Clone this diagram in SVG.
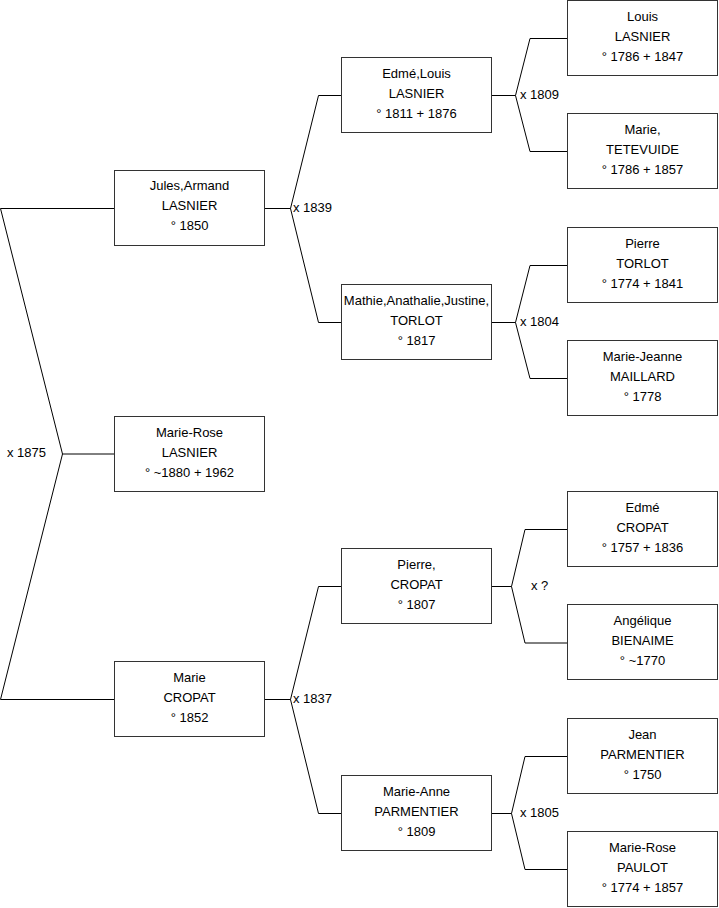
<svg xmlns="http://www.w3.org/2000/svg" width="719" height="908" viewBox="0 0 719 908">
<style>
.box{fill:#fff;stroke:#333;stroke-width:1}
.t{font-family:"Liberation Sans",Arial,sans-serif;font-size:13px;fill:#000;text-anchor:middle}
.lbl{font-family:"Liberation Sans",Arial,sans-serif;font-size:13px;fill:#000}
.con{fill:none;stroke:#000;stroke-width:1}
</style>
<rect width="719" height="908" fill="#fff"/>
<g id="connectors" class="con">
<path d="M114,208.5 H0.5 L62.5,454 L0.5,699.5 H114 M62.5,454 H114"/>
<path d="M265,208.5 H290.5 M341,95.5 H318.5 L290.5,208.5 L318.5,322.5 H341"/>
<path d="M265,699.5 H290.5 M341,586.5 H318.5 L290.5,699.5 L318.5,813.5 H341"/>
<path d="M491,95.5 H515.5 M567,38.5 H530 L515.5,95.5 L530,151.5 H567"/>
<path d="M491,322.5 H515.5 M567,265.5 H530 L515.5,322.5 L530,378.5 H567"/>
<path d="M491,586.5 H511.5 M567,529.5 H525 L511.5,586.5 L525,643 H567"/>
<path d="M491,813.5 H511.5 M567,756.5 H525 L511.5,813.5 L525,869.5 H567"/>
</g>
<g id="labels" class="lbl">
<text x="7" y="456.5">x 1875</text>
<text x="293" y="212">x 1839</text>
<text x="293" y="703">x 1837</text>
<text x="520" y="99">x 1809</text>
<text x="520" y="326">x 1804</text>
<text x="531" y="590">x ?</text>
<text x="520" y="817">x 1805</text>
</g>
<g id="n-jules"><rect class="box" x="114.5" y="170.5" width="150" height="75"/><text class="t"><tspan x="189.5" y="190">Jules,Armand</tspan><tspan x="189.5" y="210">LASNIER</tspan><tspan x="189.5" y="230">° 1850</tspan></text></g>
<g id="n-marierose"><rect class="box" x="114.5" y="416.5" width="150" height="75"/><text class="t"><tspan x="189.5" y="437">Marie-Rose</tspan><tspan x="189.5" y="457">LASNIER</tspan><tspan x="189.5" y="477">° ~1880 + 1962</tspan></text></g>
<g id="n-marie"><rect class="box" x="114.5" y="661.5" width="150" height="75"/><text class="t"><tspan x="189.5" y="682">Marie</tspan><tspan x="189.5" y="702">CROPAT</tspan><tspan x="189.5" y="722">° 1852</tspan></text></g>
<g id="n-edmelouis"><rect class="box" x="341.5" y="57.5" width="150" height="75"/><text class="t"><tspan x="416.5" y="77.5">Edmé,Louis</tspan><tspan x="416.5" y="97.5">LASNIER</tspan><tspan x="416.5" y="117.5">° 1811 + 1876</tspan></text></g>
<g id="n-mathie"><rect class="box" x="341.5" y="284.5" width="150" height="75"/><text class="t"><tspan x="416.5" y="304.5">Mathie,Anathalie,Justine,</tspan><tspan x="416.5" y="324.5">TORLOT</tspan><tspan x="416.5" y="344.5">° 1817</tspan></text></g>
<g id="n-pierre"><rect class="box" x="341.5" y="548.5" width="150" height="75"/><text class="t"><tspan x="416.5" y="568.5">Pierre,</tspan><tspan x="416.5" y="588.5">CROPAT</tspan><tspan x="416.5" y="608.5">° 1807</tspan></text></g>
<g id="n-marieanne"><rect class="box" x="341.5" y="775.5" width="150" height="75"/><text class="t"><tspan x="416.5" y="795.5">Marie-Anne</tspan><tspan x="416.5" y="815.5">PARMENTIER</tspan><tspan x="416.5" y="835.5">° 1809</tspan></text></g>
<g id="n-louis"><rect class="box" x="567.5" y="0.5" width="150" height="75"/><text class="t"><tspan x="642.5" y="20.5">Louis</tspan><tspan x="642.5" y="40.5">LASNIER</tspan><tspan x="642.5" y="60.5">° 1786 + 1847</tspan></text></g>
<g id="n-tetevuide"><rect class="box" x="567.5" y="113.5" width="150" height="75"/><text class="t"><tspan x="642.5" y="133.5">Marie,</tspan><tspan x="642.5" y="153.5">TETEVUIDE</tspan><tspan x="642.5" y="173.5">° 1786 + 1857</tspan></text></g>
<g id="n-pierretorlot"><rect class="box" x="567.5" y="227.5" width="150" height="75"/><text class="t"><tspan x="642.5" y="247.5">Pierre</tspan><tspan x="642.5" y="267.5">TORLOT</tspan><tspan x="642.5" y="287.5">° 1774 + 1841</tspan></text></g>
<g id="n-maillard"><rect class="box" x="567.5" y="340.5" width="150" height="75"/><text class="t"><tspan x="642.5" y="360.5">Marie-Jeanne</tspan><tspan x="642.5" y="380.5">MAILLARD</tspan><tspan x="642.5" y="400.5">° 1778</tspan></text></g>
<g id="n-edmecropat"><rect class="box" x="567.5" y="491.5" width="150" height="75"/><text class="t"><tspan x="642.5" y="511.5">Edmé</tspan><tspan x="642.5" y="531.5">CROPAT</tspan><tspan x="642.5" y="551.5">° 1757 + 1836</tspan></text></g>
<g id="n-angelique"><rect class="box" x="567.5" y="604.5" width="150" height="75"/><text class="t"><tspan x="642.5" y="624.5">Angélique</tspan><tspan x="642.5" y="644.5">BIENAIME</tspan><tspan x="642.5" y="664.5">° ~1770</tspan></text></g>
<g id="n-jean"><rect class="box" x="567.5" y="718.5" width="150" height="75"/><text class="t"><tspan x="642.5" y="738.5">Jean</tspan><tspan x="642.5" y="758.5">PARMENTIER</tspan><tspan x="642.5" y="778.5">° 1750</tspan></text></g>
<g id="n-paulot"><rect class="box" x="567.5" y="831.5" width="150" height="75"/><text class="t"><tspan x="642.5" y="851.5">Marie-Rose</tspan><tspan x="642.5" y="871.5">PAULOT</tspan><tspan x="642.5" y="891.5">° 1774 + 1857</tspan></text></g>
</svg>
